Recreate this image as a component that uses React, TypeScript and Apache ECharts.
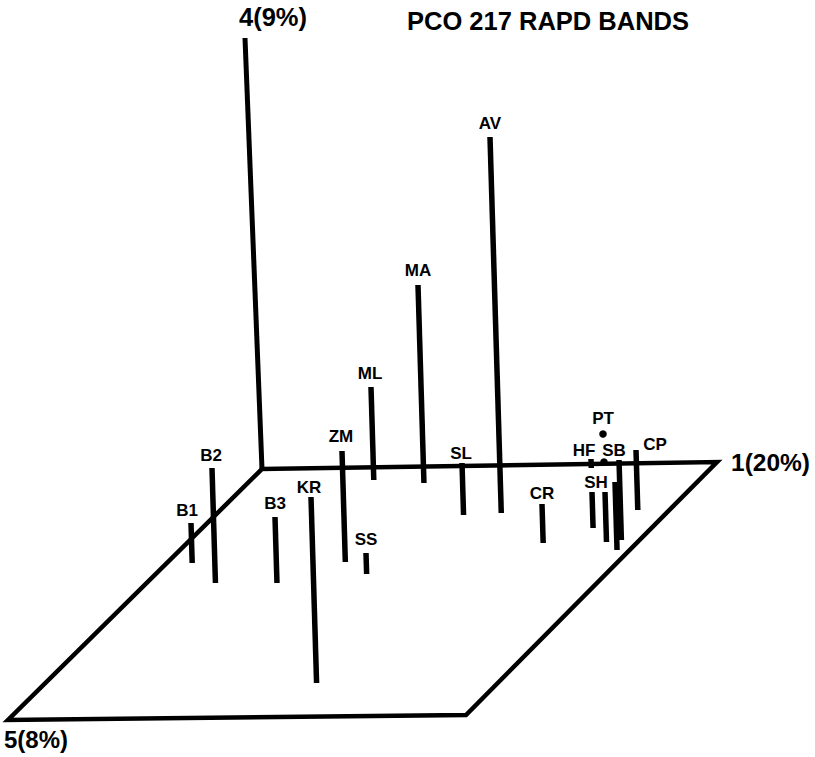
import React, { useEffect, useRef } from "react";
import * as echarts from "echarts";

// Projected 3-D PCO plot, values in the figure's own projected units
// (x to the right, y downward) so the hidden cartesian axes act as the projection.
const X_RANGE = [0, 815];
const Y_RANGE = [0, 757];

// Plane spanned by axes 1 and 5
const planeX = [262, 717, 466, 8, 262];
const planeY = [469, 462, 715, 720, 469];
// Axis 4 (vertical)
const axis4X = [245, 262];
const axis4Y = [38, 469];

// Samples: name, projected x at the stick top, stick top y, stick foot y
const names = ["B1", "B2", "B3", "KR", "ZM", "SS", "ML", "MA", "AV", "SL", "CR", "HF", "SH", "", "", "", "SB", "PT", "CP"];
const stickX = [191, 212, 275, 311, 342, 366, 371, 418, 490, 462, 542, 591, 592, 604, 605, 615, 619, 603, 636];
const stickTop = [523, 468, 517, 497, 451, 553, 387, 285, 137, 463, 504, 459, 492, 462, 492, 482, 460, 434, 450];
const stickFoot = [563, 583, 583, 683, 562, 574, 480, 483, 513, 515, 543, 468, 528, 462, 542, 550, 540, 434, 510];

// Label placement relative to the stick top
const labelDx = [-4, -1, 0, -2, -1, 0, -1, 0, 0, -1, 0, -7, 4, 0, 0, 0, -5, 0, 19];
const labelDy = [-13, -13, -14, -10, -15, -14, -14, -15, -14, -10, -11, -9, -10, 0, 0, 0, -10, -16, -6];

const TILT = 0.03;
const FONT = '"Liberation Sans", Arial, Helvetica, sans-serif';

export default function App() {
  const ref = useRef<HTMLDivElement>(null);

  useEffect(() => {
    document.body.style.margin = "0";
    const chart = echarts.init(ref.current!, undefined, { renderer: "svg" });

    const stickData = names.map((n, i) => [stickX[i], stickTop[i], stickFoot[i]]);

    chart.setOption({
      animation: false,
      backgroundColor: "#ffffff",
      grid: { left: 0, right: 0, top: 0, bottom: 0 },
      xAxis: { type: "value", min: X_RANGE[0], max: X_RANGE[1], show: false },
      yAxis: { type: "value", min: Y_RANGE[0], max: Y_RANGE[1], inverse: true, show: false },
      graphic: [
        {
          type: "text",
          left: 407,
          top: 8,
          style: { text: "PCO 217 RAPD BANDS", fill: "#000", fontSize: 25.5, fontWeight: "bold", fontFamily: FONT },
        },
        {
          type: "text",
          left: 239,
          top: 4,
          style: { text: "4(9%)", fill: "#000", fontSize: 25.5, fontWeight: "bold", fontFamily: FONT },
        },
        {
          type: "text",
          left: 731,
          top: 450,
          style: { text: "1(20%)", fill: "#000", fontSize: 24.5, fontWeight: "bold", fontFamily: FONT },
        },
        {
          type: "text",
          left: 4,
          top: 727,
          style: { text: "5(8%)", fill: "#000", fontSize: 24, fontWeight: "bold", fontFamily: FONT },
        },
      ],
      series: [
        {
          type: "line",
          data: planeX.map((x, i) => [x, planeY[i]]),
          symbol: "none",
          silent: true,
          lineStyle: { color: "#000", width: 4.5, join: "miter", cap: "square" },
        },
        {
          type: "line",
          data: axis4X.map((x, i) => [x, axis4Y[i]]),
          symbol: "none",
          silent: true,
          lineStyle: { color: "#000", width: 5 },
        },
        {
          type: "custom",
          data: stickData,
          encode: { x: 0, y: [1, 2] },
          silent: true,
          renderItem: (params: any, api: any) => {
            const i = params.dataIndex;
            const x = api.value(0);
            const top = api.value(1);
            const foot = api.value(2);
            const p1 = api.coord([x, top]);
            const p2 = api.coord([x + TILT * (foot - top), foot]);
            const children: any[] = [];
            if (foot - top < 2) {
              children.push({
                type: "circle",
                shape: { cx: p1[0], cy: p1[1], r: 3.8 },
                style: { fill: "#000" },
              });
            } else {
              children.push({
                type: "line",
                shape: { x1: p1[0], y1: p1[1], x2: p2[0], y2: p2[1] },
                style: { stroke: "#000", lineWidth: 5.5 },
              });
            }
            if (names[i]) {
              children.push({
                type: "text",
                x: p1[0] + labelDx[i],
                y: p1[1] + labelDy[i],
                style: {
                  text: names[i],
                  fill: "#000",
                  fontSize: 17,
                  fontWeight: "bold",
                  fontFamily: FONT,
                  align: "center",
                  verticalAlign: "middle",
                },
              });
            }
            return { type: "group", children };
          },
        },
      ],
    });

    return () => chart.dispose();
  }, []);

  return <div ref={ref} style={{ width: 815, height: 757 }} />;
}
